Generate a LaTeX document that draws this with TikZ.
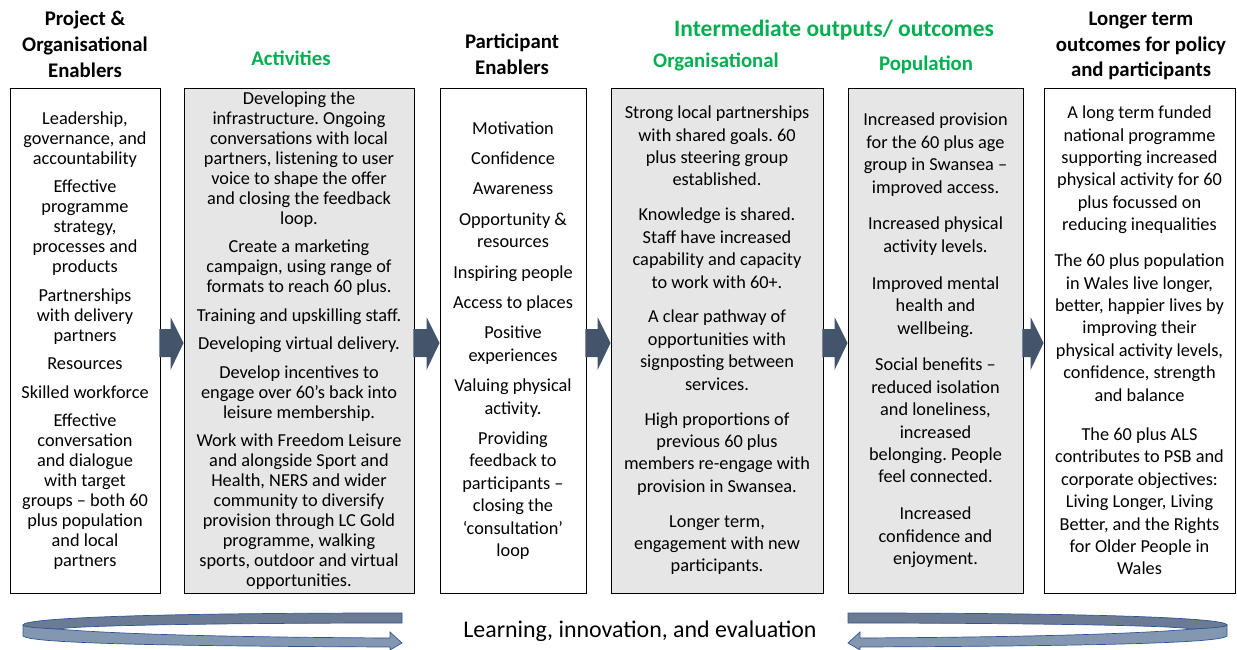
\documentclass[tikz,border=0pt]{standalone}
\usepackage{fontspec}
\setmainfont{Carlito}
\usetikzlibrary{calc}
\frenchspacing
\definecolor{boxgray}{HTML}{E7E6E6}
\definecolor{arrowblue}{HTML}{44546A}
\definecolor{headgreen}{HTML}{00B050}
\definecolor{riblight}{HTML}{8497B0}
\definecolor{ribdark}{HTML}{6A7B93}
\definecolor{ribline}{HTML}{2F5597}
\tikzset{
  box/.style={draw=black, line width=0.9pt, inner sep=0pt, align=center, minimum height=505pt, text=black},
  grayfill/.style={fill=boxgray},
  tightfont/.style={font={\frenchspacing\fontsize{18.3}{20}\selectfont}},
  loosefont/.style={font={\frenchspacing\fontsize{18.3}{22.4}\selectfont}},
  head/.style={align=center, inner sep=0pt, font={\bfseries\fontsize{20.8}{25.8}\selectfont}},
  greenhead/.style={head, text=headgreen},
  blockarr/.style={fill=arrowblue},
  ribA/.style={fill=riblight, draw=ribline, line width=0.7pt},
  ribB/.style={fill=ribdark, draw=ribline, line width=0.7pt},
}
\begin{document}
\begin{tikzpicture}[x=1pt, y=-1pt]
\useasboundingbox (0,0) rectangle (1237,650);

% headers
\node[head] (h1) at (85,44) {Project \&\\Organisational\\Enablers};
\node[greenhead] (h2) at (291,58) {Activities};
\node[head] (h3) at (512,54.5) {Participant\\Enablers};
\node[greenhead, font={\bfseries\fontsize{23.5}{28}\selectfont}] (h4) at (834,30) {Intermediate outputs/ outcomes};
\node[greenhead] (h4a) at (716,62) {Organisational};
\node[greenhead] (h4b) at (926,65) {Population};
\node[head] (h5) at (1141,46) {Longer term\\outcomes for policy\\and participants};

% boxes
\node[box, tightfont, minimum width=150pt] (b1) at (85,340.5) {Leadership,\\governance, and\\accountability\\[8.5pt]Effective\\programme\\strategy,\\processes and\\products\\[8.5pt]Partnerships\\with delivery\\partners\\[8.5pt]Resources\\[8.5pt]Skilled workforce\\[8.5pt]Effective\\conversation\\and dialogue\\with target\\groups – both 60\\plus population\\and local\\partners};

\node[box, grayfill, tightfont, minimum width=230pt] (b2) at (299,340.5) {Developing the\\infrastructure. Ongoing\\conversations with local\\partners, listening to user\\voice to shape the offer\\and closing the feedback\\loop.\\[8.5pt]Create a marketing\\campaign, using range of\\formats to reach 60 plus.\\[8.5pt]Training and upskilling staff.\\[8.5pt]Developing virtual delivery.\\[8.5pt]Develop incentives to\\engage over 60’s back into\\leisure membership.\\[8.5pt]Work with Freedom Leisure\\and alongside Sport and\\Health, NERS and wider\\community to diversify\\provision through LC Gold\\programme, walking\\sports, outdoor and virtual\\opportunities.};

\node[box, loosefont, minimum width=146pt] (b3) at (513,340.5) {Motivation\\[8pt]Confidence\\[8pt]Awareness\\[8pt]Opportunity \&\\resources\\[8pt]Inspiring people\\[8pt]Access to places\\[8pt]Positive\\experiences\\[8pt]Valuing physical\\activity.\\[8pt]Providing\\feedback to\\participants –\\closing the\\‘consultation’\\loop};

\node[box, grayfill, loosefont, minimum width=212pt] (b4) at (717,340.5) {Strong local partnerships\\with shared goals. 60\\plus steering group\\established.\\[12.5pt]Knowledge is shared.\\Staff have increased\\capability and capacity\\to work with 60+.\\[12.5pt]A clear pathway of\\opportunities with\\signposting between\\services.\\[12.5pt]High proportions of\\previous 60 plus\\members re-engage with\\provision in Swansea.\\[12.5pt]Longer term,\\engagement with new\\participants.};

\node[box, grayfill, loosefont, minimum width=175pt] (b5) at (935.5,340.5) {Increased provision\\for the 60 plus age\\group in Swansea –\\improved access.\\[14.5pt]Increased physical\\activity levels.\\[14.5pt]Improved mental\\health and\\wellbeing.\\[14.5pt]Social benefits –\\reduced isolation\\and loneliness,\\increased\\belonging. People\\feel connected.\\[14.5pt]Increased\\confidence and\\enjoyment.};

\node[box, loosefont, minimum width=191pt] (b6) at (1139.5,340.5) {A long term funded\\national programme\\supporting increased\\physical activity for 60\\plus focussed on\\reducing inequalities\\[13.5pt]The 60 plus population\\in Wales live longer,\\better, happier lives by\\improving their\\physical activity levels,\\confidence, strength\\and balance\\[17pt]The 60 plus ALS\\contributes to PSB and\\corporate objectives:\\Living Longer, Living\\Better, and the Rights\\for Older People in\\Wales};

% block arrows between boxes
\foreach \a/\b in {b1/b2, b2/b3, b3/b4, b4/b5, b5/b6}{
  \fill[blockarr] let \p1=(\a.east), \p2=(\b.west) in
    (\x1-1pt,-329pt) -- (\x2-13pt,-329pt) -- (\x2-13pt,-317pt) -- (\x2,-343pt)
    -- (\x2-13pt,-370pt) -- (\x2-13pt,-357pt) -- (\x1-1pt,-357pt) -- cycle;
}

% bottom loop arrows
\node[inner sep=0pt, font={\fontsize{23.9}{28}\selectfont}] (learn) at (640,631) {Learning, innovation, and evaluation};

\begin{scope}
  \filldraw[ribA] (23,625) -- (23,636) .. controls (30,643) and (150,646) .. (390,647)
    -- (390,650) -- (402,643) -- (390,632) -- (390,638)
    .. controls (200,637) and (70,633) .. (23,625) -- cycle;
  \filldraw[ribB] (402,613) -- (402,623) .. controls (250,623) and (80,625) .. (58,629)
    .. controls (38,628) and (23,627) .. (23,625)
    .. controls (23,619) and (120,613) .. (402,613) -- cycle;
\end{scope}
\begin{scope}[xshift=1250pt, xscale=-1]
  \filldraw[ribA] (23,625) -- (23,636) .. controls (30,643) and (150,646) .. (390,647)
    -- (390,650) -- (402,643) -- (390,632) -- (390,638)
    .. controls (200,637) and (70,633) .. (23,625) -- cycle;
  \filldraw[ribB] (402,613) -- (402,623) .. controls (250,623) and (80,625) .. (58,629)
    .. controls (38,628) and (23,627) .. (23,625)
    .. controls (23,619) and (120,613) .. (402,613) -- cycle;
\end{scope}
\end{tikzpicture}
\end{document}
